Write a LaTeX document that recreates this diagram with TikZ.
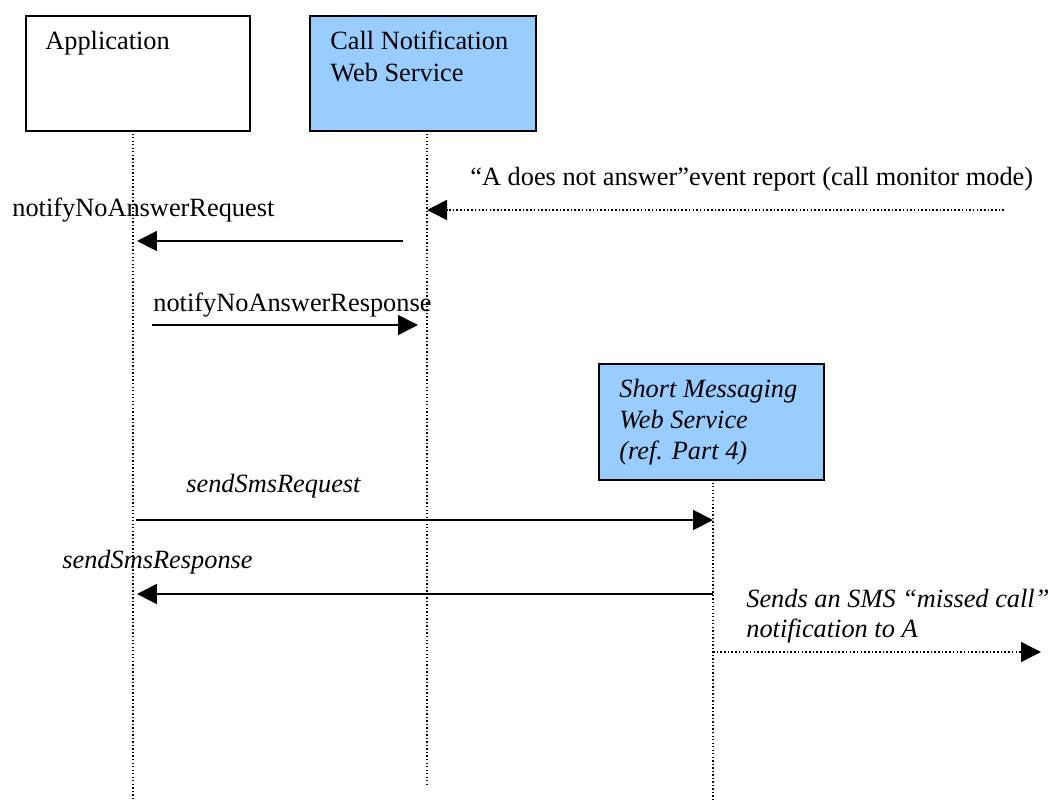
\documentclass[tikz,border=0pt]{standalone}
\usepackage{fontspec}
\setmainfont{Liberation Serif}
\usepackage{tikz}
\usetikzlibrary{positioning}
\usetikzlibrary{arrows.meta}
\definecolor{boxblue}{HTML}{99CCFF}
\tikzset{
    box/.style={draw, line width=1.4pt, anchor=north west, inner sep=0pt},
    txt/.style={anchor=base west, inner sep=0pt},
    life/.style={line width=0.8pt, dash pattern=on 0.8pt off 1.2pt},
    msg/.style={line width=1.1pt, -{Triangle[length=0.4cm, width=0.4cm]}},
    evt/.style={line width=0.9pt, dash pattern=on 0.9pt off 1.2pt, -{Triangle[length=0.4cm, width=0.4cm]}},
}

\begin{document}
\begin{tikzpicture}[x=0.02cm, y=-0.02cm, font=\fontsize{15}{18}\selectfont]
    \useasboundingbox (0,0) rectangle (1051,801);
    % boxes
    \node[box, minimum width=4.48cm, minimum height=2.3cm] (app) at (25,15) {};
    \node[box, fill=boxblue, minimum width=4.52cm, minimum height=2.3cm] (cn) at (309,15) {};
    \node[box, fill=boxblue, minimum width=4.5cm, minimum height=2.32cm] (sms) at (598,363) {};
    \node[txt] (app-l1) at (45,50) {Application};
    \node[txt] (cn-l1) at (330,50) {Call Notification};
    \node[txt] (cn-l2) at (330,81) {Web Service};
    \node[txt] (sms-l1) at (619,397) {\itshape Short Messaging};
    \node[txt] (sms-l2) at (619,428) {\itshape Web Service};
    \node[txt] (sms-l3) at (619,459) {\itshape (ref. Part 4)};
    % lifelines
    \coordinate (app-top) at (133,130);
    \coordinate (app-end) at (133,801);
    \coordinate (cn-top) at (427,130);
    \coordinate (cn-end) at (427,785);
    \coordinate (sms-top) at (713,479);
    \coordinate (sms-end) at (713,801);
    \draw[life] (app-top) -- (app-end);
    \draw[life] (cn-top) -- (cn-end);
    \draw[life] (sms-top) -- (sms-end);
    % event report
    \coordinate (ev-from) at (1004,210);
    \coordinate (ev-to) at (427,210);
    \draw[evt] (ev-from) -- (ev-to);
    \node[txt] (ev-t) at (470,185) {``A does not answer''event report (call monitor mode)};
    % notifyNoAnswer
    \coordinate (nr-from) at (403,241);
    \coordinate (nr-to) at (137,241);
    \draw[msg] (nr-from) -- (nr-to);
    \node[txt] (nr-t) at (12,216) {notifyNoAnswerRequest};
    \coordinate (ns-from) at (152,325);
    \coordinate (ns-to) at (418,325);
    \draw[msg] (ns-from) -- (ns-to);
    \node[txt] (ns-t) at (153,311) {notifyNoAnswerResponse};
    % sendSms
    \coordinate (sr-from) at (136,520);
    \coordinate (sr-to) at (713,520);
    \draw[msg] (sr-from) -- (sr-to);
    \node[txt] (sr-t) at (186,492) {\itshape sendSmsRequest};
    \coordinate (ss-from) at (713,594);
    \coordinate (ss-to) at (137,594);
    \draw[msg] (ss-from) -- (ss-to);
    \node[txt] (ss-t) at (62,568) {\itshape sendSmsResponse};
    % sms to A
    \coordinate (to-a-from) at (713,652);
    \coordinate (to-a-to) at (1041,652);
    \draw[evt] (to-a-from) -- (to-a-to);
    \node[txt] (to-a-l1) at (746,607) {\itshape Sends an SMS ``missed call''};
    \node[txt] (to-a-l2) at (746,637) {\itshape notification to A};
\end{tikzpicture}
\end{document}
